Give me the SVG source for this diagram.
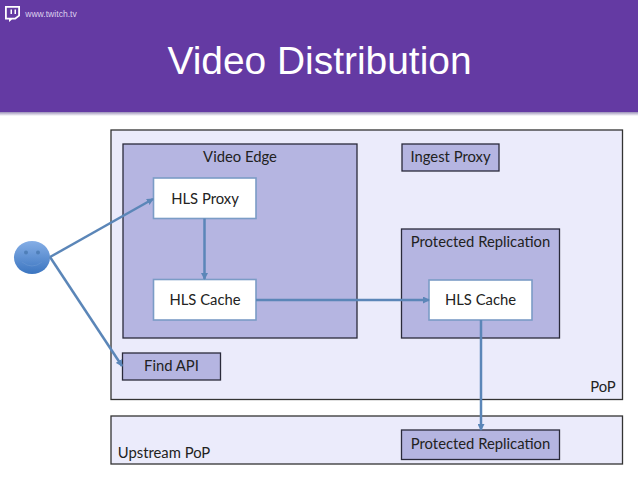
<svg xmlns="http://www.w3.org/2000/svg" width="638" height="479" viewBox="0 0 638 479">
<style>
text{font-family:"Lato","Carlito","Open Sans",sans-serif;font-size:14.8px;fill:#222;text-anchor:middle}
.outer{fill:#ebebfb;stroke:#333;stroke-width:1.3}
.inner{fill:#b5b5e1;stroke:#2a2a3a;stroke-width:1.3}
.box{fill:#fff;stroke:#7b9cc6;stroke-width:1.6}
.conn{fill:none;stroke:#5b86b8;stroke-width:2.5;marker-end:url(#arrow)}
</style>
<defs>
<marker id="arrow" markerWidth="7" markerHeight="7" refX="6" refY="3.500" orient="auto" markerUnits="userSpaceOnUse" viewBox="0 0 7 7"><path d="M0 0L7 3.500L0 7z" fill="#5b86b8"/></marker>
<linearGradient id="face" x1="0" y1="0" x2="0" y2="1"><stop offset="0" stop-color="#85aee6"/><stop offset="1" stop-color="#3b75c0"/></linearGradient>
<linearGradient id="shade" x1="0" y1="0" x2="0" y2="1"><stop offset="0" stop-color="#9a90b8"/><stop offset="1" stop-color="#fff"/></linearGradient>
</defs>
<rect width="638" height="479" fill="#fff"/>
<g id="header">
<rect x="0" y="112" width="638" height="4" fill="url(#shade)"/>
<rect x="0" y="0" width="638" height="112" fill="#643aa3"/>
<path d="M5 6H20V16L15.500 19.500H12L9 22V19.500H5Z" fill="#fff"/>
<path d="M6.800 7.800H18.200V15.200L14.800 17.700H6.800Z" fill="#643aa3"/>
<rect x="10.500" y="9.500" width="1.500" height="4.500" fill="#fff"/><rect x="14.500" y="9.500" width="1.500" height="4.500" fill="#fff"/>
<text x="51" y="16.500" style="font-family:'Liberation Sans',sans-serif;font-size:8.600px;fill:#dcd0ee">www.twitch.tv</text>
<text x="319.500" y="74" style="font-family:'Liberation Sans',sans-serif;font-size:38.900px;fill:#fff">Video Distribution</text>
</g>
<g id="pop"><rect class="outer" x="111" y="130" width="511.500" height="269.500"/><text x="603" y="392">PoP</text></g>
<g id="upstream-pop"><rect class="outer" x="111" y="416" width="511.500" height="48"/><text x="164" y="458">Upstream PoP</text></g>
<g id="video-edge"><rect class="inner" x="123" y="144" width="234" height="194"/><text x="240" y="162">Video Edge</text></g>
<g id="ingest-proxy"><rect class="inner" x="402" y="144" width="97" height="27"/><text x="450.500" y="162">Ingest Proxy</text></g>
<g id="protected-replication"><rect class="inner" x="401.500" y="229" width="158" height="109"/><text x="480.500" y="247">Protected Replication</text></g>
<g id="find-api"><rect class="inner" x="122.500" y="353" width="98" height="27"/><text x="171.500" y="371">Find API</text></g>
<g id="protected-replication-2"><rect class="inner" x="401.500" y="430" width="158" height="29.500"/><text x="480.500" y="449">Protected Replication</text></g>
<g id="hls-proxy"><rect class="box" x="153.500" y="178" width="102.500" height="40.500"/><text x="205" y="204">HLS Proxy</text></g>
<g id="hls-cache"><rect class="box" x="153.500" y="279.500" width="102.500" height="40.500"/><text x="205" y="305">HLS Cache</text></g>
<g id="hls-cache-2"><rect class="box" x="429" y="280" width="103" height="40"/><text x="480.500" y="305">HLS Cache</text></g>
<g id="user">
<ellipse cx="32" cy="257.500" rx="18" ry="16.500" fill="url(#face)"/>
<circle cx="26" cy="252.500" r="2" fill="#4f7fb8"/><circle cx="38" cy="252.500" r="2" fill="#4f7fb8"/>
<path d="M22 262Q32 270 42 262" fill="none" stroke="#5f90d0" stroke-width="1"/>
</g>
<g id="connectors">
<path class="conn" d="M50 257L153 199"/>
<path class="conn" d="M50 257L122 366"/>
<path class="conn" d="M204.500 218.500V279"/>
<path class="conn" d="M256 300H429"/>
<path class="conn" d="M481 320V430"/>
</g>
</svg>
